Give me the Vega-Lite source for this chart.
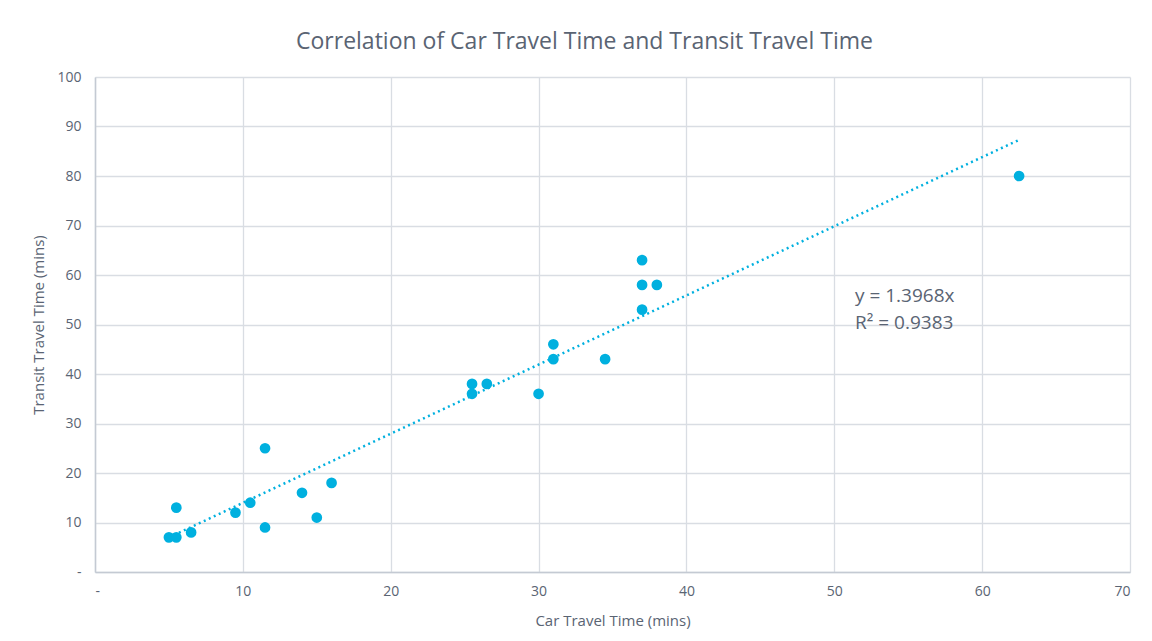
{
  "$schema": "https://vega.github.io/schema/vega-lite/v6.json",
  "width": 1035,
  "height": 495,
  "autosize": "none",
  "padding": {"left": 95, "top": 77, "right": 22, "bottom": 69},
  "background": "white",
  "title": {
    "text": "Correlation of Car Travel Time and Transit Travel Time",
    "fontSize": 23,
    "font": "Open Sans",
    "fontWeight": "normal",
    "color": "#5A6473",
    "anchor": "middle",
    "dx": -28,
    "offset": 16
  },
  "config": {
    "view": {"stroke": null},
    "axis": {
      "labelFont": "Open Sans",
      "titleFont": "Open Sans",
      "labelFontSize": 14,
      "titleFontSize": 15,
      "titleFontWeight": "normal",
      "labelColor": "#5A6473",
      "titleColor": "#5A6473",
      "gridColor": "#D9DDE3",
      "gridWidth": 1.3,
      "domainColor": "#C4CAD3",
      "domainWidth": 1.5,
      "ticks": false
    }
  },
  "datasets": {
    "points": [
      {"car": 5.0, "transit": 7},
      {"car": 5.5, "transit": 7},
      {"car": 5.5, "transit": 13},
      {"car": 6.5, "transit": 8},
      {"car": 9.5, "transit": 12},
      {"car": 10.5, "transit": 14},
      {"car": 11.5, "transit": 25},
      {"car": 11.5, "transit": 9},
      {"car": 14, "transit": 16},
      {"car": 15, "transit": 11},
      {"car": 16, "transit": 18},
      {"car": 25.5, "transit": 38},
      {"car": 25.5, "transit": 36},
      {"car": 26.5, "transit": 38},
      {"car": 30, "transit": 36},
      {"car": 31, "transit": 46},
      {"car": 31, "transit": 43},
      {"car": 34.5, "transit": 43},
      {"car": 37, "transit": 63},
      {"car": 37, "transit": 58},
      {"car": 38, "transit": 58},
      {"car": 37, "transit": 53},
      {"car": 62.5, "transit": 80}
    ],
    "trend": [
      {"car": 5.0, "transit": 6.984},
      {"car": 62.5, "transit": 87.3}
    ],
    "label": [
      {"line": "y = 1.3968x\nR² = 0.9383"}
    ]
  },
  "layer": [
    {
      "data": {"name": "trend"},
      "mark": {"type": "line", "color": "#00B0DF", "strokeDash": [2, 3.5], "strokeWidth": 2.5},
      "encoding": {
        "x": {"field": "car", "type": "quantitative", "scale": {"domain": [0, 70], "nice": false},
          "axis": {"values": [0, 10, 20, 30, 40, 50, 60, 70], "labelExpr": "datum.value == 0 ? '-' : datum.label", "title": "Car Travel Time (mins)", "labelPadding": 12, "titlePadding": 15}},
        "y": {"field": "transit", "type": "quantitative", "scale": {"domain": [0, 100], "nice": false},
          "axis": {"values": [0, 10, 20, 30, 40, 50, 60, 70, 80, 90, 100], "labelExpr": "datum.value == 0 ? '-' : datum.label", "title": "Transit Travel Time (mins)", "labelPadding": 14, "titlePadding": 10}}
      }
    },
    {
      "data": {"name": "points"},
      "mark": {"type": "point", "filled": true, "opacity": 1, "color": "#00B0DF", "size": 115},
      "encoding": {
        "x": {"field": "car", "type": "quantitative"},
        "y": {"field": "transit", "type": "quantitative"}
      }
    },
    {
      "data": {"name": "label"},
      "mark": {"type": "text", "align": "left", "baseline": "middle", "font": "Open Sans", "fontSize": 19, "lineHeight": 27, "lineBreak": "\n", "color": "#5A6473"},
      "encoding": {
        "x": {"datum": 51.4, "type": "quantitative"},
        "y": {"datum": 55.8, "type": "quantitative"},
        "text": {"field": "line"}
      }
    }
  ]
}
